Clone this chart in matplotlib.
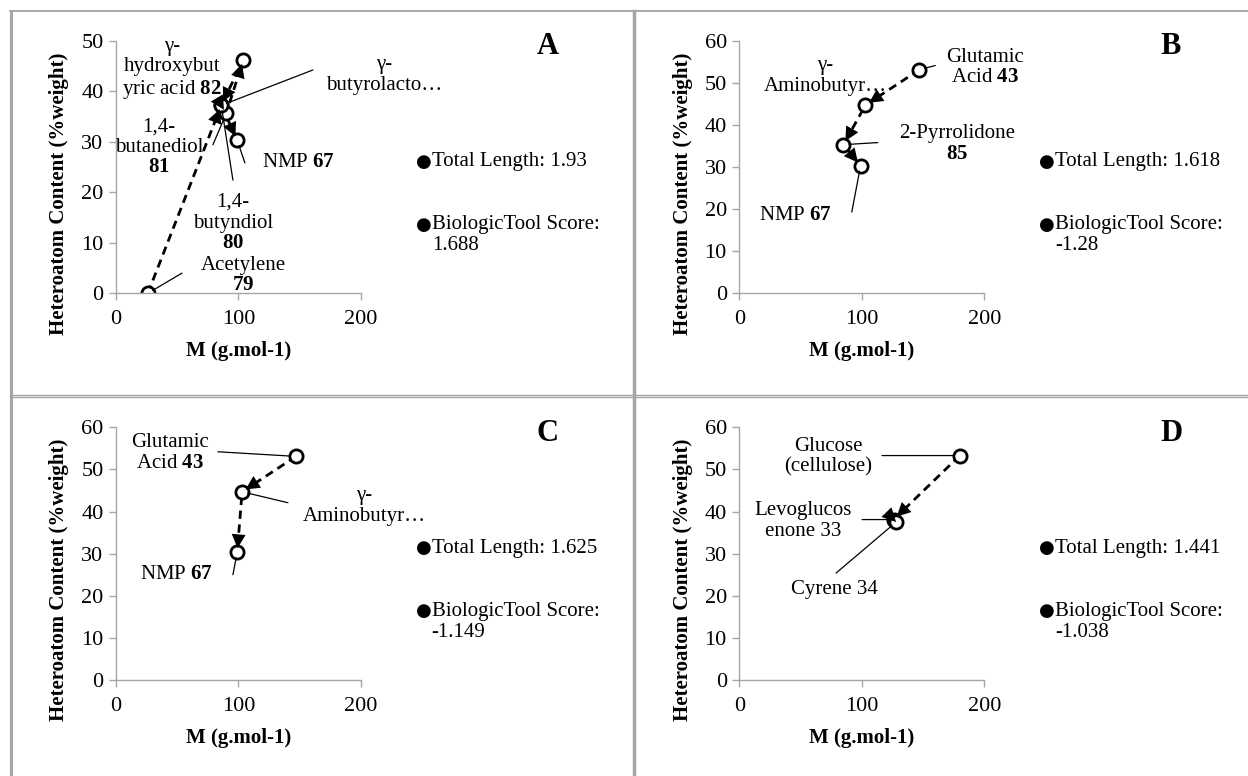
import matplotlib
matplotlib.use("Agg")
import matplotlib.pyplot as plt
from matplotlib.lines import Line2D

plt.rcParams['font.family'] = ['Liberation Serif', 'DejaVu Sans']
plt.rcParams['mathtext.fontset'] = 'custom'
plt.rcParams['mathtext.rm'] = 'Liberation Serif'
plt.rcParams['mathtext.it'] = 'Liberation Serif:italic'
plt.rcParams['mathtext.bf'] = 'Liberation Serif:bold'

# --- data: molar mass (g/mol) and heteroatom content (%wt) along each route ---
a_names = ["Acetylene", "1,4-butyndiol", "1,4-butanediol", "GHB", "GBL", "NMP"]
a_mass = [26, 86, 90, 104, 86, 99]
a_hetero = [0, 37.2, 35.6, 46.2, 37.2, 30.3]

b_names = ["Glutamic Acid", "GABA", "2-Pyrrolidone", "NMP"]
b_mass = [147, 103, 85, 99]
b_hetero = [53.1, 44.7, 35.3, 30.3]

c_names = ["Glutamic Acid", "GABA", "NMP"]
c_mass = [147, 103, 99]
c_hetero = [53.1, 44.7, 30.3]

d_names = ["Glucose", "Levoglucosenone", "Cyrene"]
d_mass = [180, 126, 128]
d_hetero = [53.3, 38.1, 37.5]

total_length = ["1.93", "1.618", "1.625", "1.441"]
tool_score = ["1.688", "-1.28", "-1.149", "-1.038"]
letters = ["A", "B", "C", "D"]

# label text, label position (data), leader start (data) or None, point index
a_labels = [
    ("Acetylene\n$\\mathbf{79}$", (103.7, 3.5), (53.9, 4.0), 0),
    ("1,4-\nbutyndiol\n$\\mathbf{80}$", (95.5, 13.9), (95.5, 22.4), 1),
    ("1,4-\nbutanediol\n$\\mathbf{81}$", (35.1, 28.9), (79.2, 29.4), 2),
    ("γ-\nhydroxybut\nyric acid $\\mathbf{82}$", (45.7, 44.4), None, 3),
    ("γ-\nbutyrolacto…", (218.8, 43.2), (160.8, 44.2), 4),
    ("NMP $\\mathbf{67}$", (148.6, 25.8), (105.3, 25.8), 5),
]
b_labels = [
    ("Glutamic\nAcid $\\mathbf{43}$", (200.6, 53.6), (160.0, 54.1), 0),
    ("γ-\nAminobutyr…", (70.0, 51.6), None, 1),
    ("2-Pyrrolidone\n$\\mathbf{85}$", (177.7, 35.4), (113.1, 35.8), 2),
    ("NMP $\\mathbf{67}$", (45.5, 18.5), (91.8, 19.3), 3),
]
c_labels = [
    ("Glutamic\nAcid $\\mathbf{43}$", (44.1, 53.9), (83.3, 54.2), 0),
    ("γ-\nAminobutyr…", (202.4, 41.4), (140.4, 42.1), 1),
    ("NMP $\\mathbf{67}$", (49.8, 25.0), (95.5, 25.0), 2),
]
d_labels = [
    ("Glucose\n(cellulose)", (72.4, 53.0), (116.5, 53.3), 0),
    ("Levoglucos\nenone 33", (52.0, 37.8), (100.2, 38.1), 1),
    ("Cyrene 34", (78.0, 21.4), (79.0, 25.4), 2),
]

fig = plt.figure(figsize=(12.48, 7.76), dpi=100)

# table-like frame
gray = "#a6a6a6"
fig.add_artist(Line2D([10/1248, 1], [1-11/776, 1-11/776], color="#999999", lw=1.2))
fig.add_artist(Line2D([11/1248, 11/1248], [0, 1-11/776], color=gray, lw=2.2))
fig.add_artist(Line2D([633.5/1248, 633.5/1248], [0, 1-11/776], color=gray, lw=2.5))
for yy in (394.5, 397.5):
    fig.add_artist(Line2D([10/1248, 1], [1-yy/776, 1-yy/776], color=gray, lw=1.0))

panels = [
    (a_mass, a_hetero, a_labels, 50, [0.0929, 0.622]),
    (b_mass, b_hetero, b_labels, 60, [0.5924, 0.622]),
    (c_mass, c_hetero, c_labels, 60, [0.0929, 0.1237]),
    (d_mass, d_hetero, d_labels, 60, [0.5924, 0.1237]),
]

fs = 15
for i, (mass, het, labels, ymax, (left, bottom)) in enumerate(panels):
    ax = fig.add_axes([left, bottom, 0.1963, 0.3256])
    ax.plot(mass, het, ls=(0, (3, 2)), lw=2, color="black", marker="o",
            ms=9.5, mfc="white", mec="black", mew=2)
    for k in range(len(mass) - 1):
        ax.annotate("", xy=(mass[k+1], het[k+1]), xytext=(mass[k], het[k]),
                    arrowprops=dict(arrowstyle="-|>,head_length=0.5,head_width=0.25",
                                    mutation_scale=20, lw=0, color="black",
                                    shrinkA=0, shrinkB=3))
    for text, pos, lead, k in labels:
        ax.text(pos[0], pos[1], text, ha="center", va="center", fontsize=fs,
                linespacing=1.12, clip_on=False)
        if lead is not None:
            ax.annotate("", xy=(mass[k], het[k]), xytext=lead,
                        arrowprops=dict(arrowstyle="-", lw=0.9, color="black",
                                        shrinkA=0, shrinkB=4))
    ax.set_xlim(0, 200)
    ax.set_ylim(0, ymax)
    ax.set_xticks([0, 100, 200])
    ax.set_yticks(range(0, ymax + 1, 10))
    for s in ("top", "right"):
        ax.spines[s].set_visible(False)
    for s in ("left", "bottom"):
        ax.spines[s].set_color(gray)
        ax.spines[s].set_linewidth(1)
    ax.tick_params(direction="out", length=5, width=1, color=gray,
                   labelsize=16, pad=4)
    ax.tick_params(axis="x", pad=7)
    ax.set_xlabel("M (g.mol-1)", fontsize=fs, fontweight="bold", labelpad=9)
    ax.set_ylabel("Heteroatom Content (%weight)", fontsize=fs, fontweight="bold")
    ax.yaxis.set_label_coords(-0.19, 0.395)

    x0 = left + 0.2450
    ytop = bottom + 0.3256
    fig.text(x0 + 0.1010, ytop - 6/776, letters[i], fontsize=22,
             fontweight="bold", ha="center", va="center")
    fig.text(x0 - 6/1248, ytop - 121/776, "●", fontsize=13, ha="left", va="center",
             family=["DejaVu Sans"])
    fig.text(x0 + 10/1248, ytop - 121/776, "Total Length: " + total_length[i],
             fontsize=fs, ha="left", va="center")
    fig.text(x0 - 6/1248, ytop - 184/776, "●", fontsize=13, ha="left", va="center",
             family=["DejaVu Sans"])
    fig.text(x0 + 10/1248, ytop - 184/776, "BiologicTool Score:",
             fontsize=fs, ha="left", va="center")
    fig.text(x0 + 10/1248, ytop - 205/776, tool_score[i],
             fontsize=fs, ha="left", va="center")

fig.savefig("out.png", dpi=100)
